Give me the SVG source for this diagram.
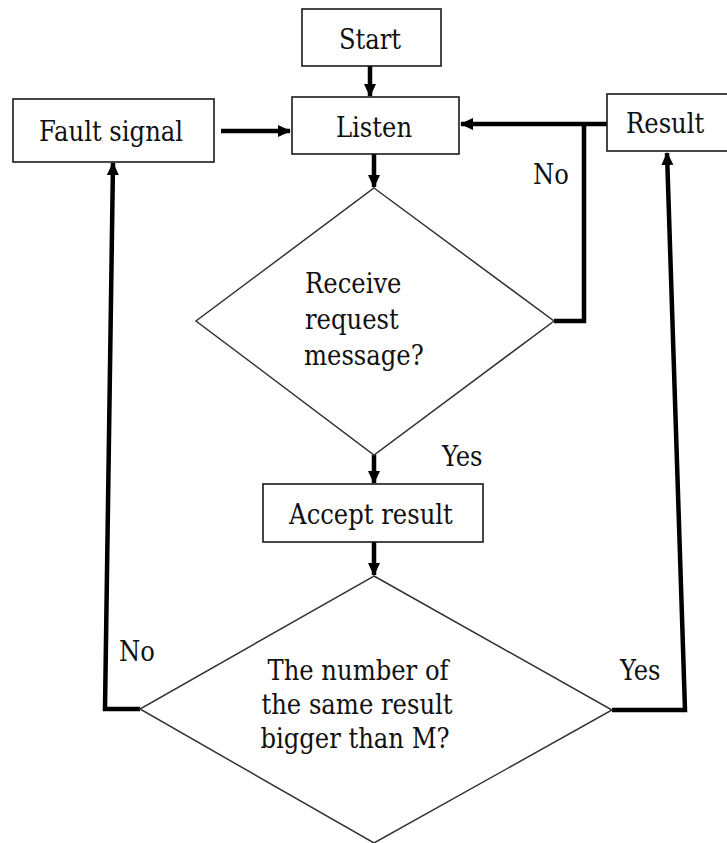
<svg xmlns="http://www.w3.org/2000/svg" width="727" height="843" viewBox="0 0 727 843">
  <style>
    .box { fill: #ffffff; stroke: #1a1a1a; stroke-width: 1.6; }
    .dia { fill: #ffffff; stroke: #333333; stroke-width: 1.5; }
    text { font-family: 'DejaVu Serif Condensed', 'DejaVu Serif', 'Liberation Serif', serif; font-stretch: condensed; font-size: 27px; fill: #111111; }
    .mid { text-anchor: middle; }
    .wire { fill: none; stroke: #000000; stroke-width: 4.5; stroke-linejoin: miter; }
  </style>
  <defs>
    <marker id="head" markerUnits="userSpaceOnUse" markerWidth="14" markerHeight="14" viewBox="0 0 14 14" refX="12" refY="7" orient="auto">
      <path d="M0,1 L13,7 L0,13 Z" fill="#000000"/>
    </marker>
  </defs>

  <!-- connectors -->
  <g id="connectors">
    <path class="wire" d="M370,66 L370,96" marker-end="url(#head)"/>
    <path class="wire" d="M374,154 L374,187" marker-end="url(#head)"/>
    <path class="wire" d="M221,131 L290,131" marker-end="url(#head)"/>
    <path class="wire" d="M607,124 L461,124" marker-end="url(#head)"/>
    <path class="wire" d="M554,321 L584,321 L584,124"/>
    <path class="wire" d="M374,455 L374,483" marker-end="url(#head)"/>
    <path class="wire" d="M374,542 L374,575" marker-end="url(#head)"/>
    <path class="wire" d="M140,709 L105,709 L113,163" marker-end="url(#head)"/>
    <path class="wire" d="M612,710 L685,710 L667,153" marker-end="url(#head)"/>
  </g>

  <g id="start">
    <rect class="box" x="302" y="9" width="139" height="57"/>
    <text class="mid" x="370" y="49">Start</text>
  </g>

  <g id="listen">
    <rect class="box" x="292" y="97" width="167" height="57"/>
    <text class="mid" x="374" y="137">Listen</text>
  </g>

  <g id="fault-signal">
    <rect class="box" x="13" y="99" width="201" height="63"/>
    <text class="mid" x="111" y="141">Fault signal</text>
  </g>

  <g id="result">
    <rect class="box" x="607" y="94" width="130" height="57"/>
    <text x="626" y="133">Result</text>
  </g>

  <g id="receive-request">
    <polygon class="dia" points="374,188 554,321 374,455 196,321"/>
    <text x="305" y="293">Receive</text>
    <text x="305" y="329">request</text>
    <text x="304" y="365">message?</text>
  </g>

  <g id="accept-result">
    <rect class="box" x="263" y="484" width="220" height="58"/>
    <text class="mid" x="371" y="524">Accept result</text>
  </g>

  <g id="same-result-check">
    <polygon class="dia" points="374,576 612,710 374,843 140,709"/>
    <text class="mid" x="358" y="680">The number of</text>
    <text class="mid" x="357" y="714">the same result</text>
    <text class="mid" x="355" y="748">bigger than M?</text>
  </g>

  <!-- branch labels -->
  <g id="labels">
    <text x="533" y="184">No</text>
    <text x="442" y="466">Yes</text>
    <text x="119" y="661">No</text>
    <text x="620" y="680">Yes</text>
  </g>
</svg>
